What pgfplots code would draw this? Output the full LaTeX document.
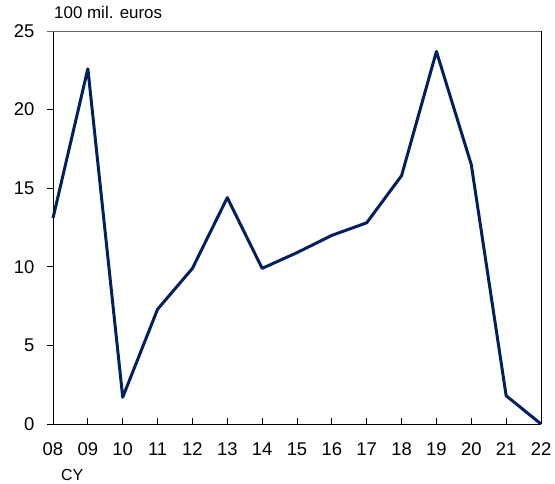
\documentclass[border=0pt]{standalone}
\usepackage{fontspec}
\setmainfont{Liberation Sans}
\usepackage{pgfplots}
\pgfplotsset{compat=1.18}
\definecolor{navy}{RGB}{0,32,96}
\begin{document}
\begin{tikzpicture}[x=1bp,y=1bp]
\useasboundingbox (-53bp,-60bp) rectangle (502bp,424bp);
\begin{axis}[
  at={(0,0)}, anchor=origin,
  scale only axis, width=488bp, height=393bp,
  xmin=8, xmax=22, ymin=0, ymax=25,
  axis x line*=bottom, axis y line*=left,
  axis line style={black, line width=0.9pt, -},
  xtick={8,...,22},
  xticklabels={08,09,10,11,12,13,14,15,16,17,18,19,20,21,22},
  ytick={0,5,...,25},
  tick align=outside,
  major tick length=6bp,
  tick style={black, line width=0.8pt},
  x tick style={yshift=6bp},
  ticklabel style={font=\fontsize{18.5}{20}\selectfont},
  /pgf/number format/assume math mode=true,
  xticklabel style={yshift=-9bp},
  yticklabel style={xshift=-9bp},
  clip=false,
]
\addplot[navy, line width=3pt, line join=round] coordinates {
(8,13.1) (9,22.6) (10,1.7) (11,7.3) (12,9.9) (13,14.4) (14,9.9) (15,10.9)
(16,12.0) (17,12.8) (18,15.8) (19,23.7) (20,16.5) (21,1.8) (22,0)
};
\draw[gray!80!black, line width=0.9pt] ([xshift=-6bp]rel axis cs:0,1) -- (rel axis cs:1,1);
\draw[black, line width=0.9pt] (rel axis cs:1,0) -- (rel axis cs:1,1);
\node[anchor=base west, font=\fontsize{17}{19}\selectfont, inner sep=0pt] at ([xshift=1bp,yshift=12bp]rel axis cs:0,1) {100 mil. euros};
\node[anchor=center, font=\fontsize{16}{18}\selectfont, inner sep=0pt] at ([yshift=-51bp]axis cs:8.55,0) {CY};
\end{axis}
\end{tikzpicture}
\end{document}
